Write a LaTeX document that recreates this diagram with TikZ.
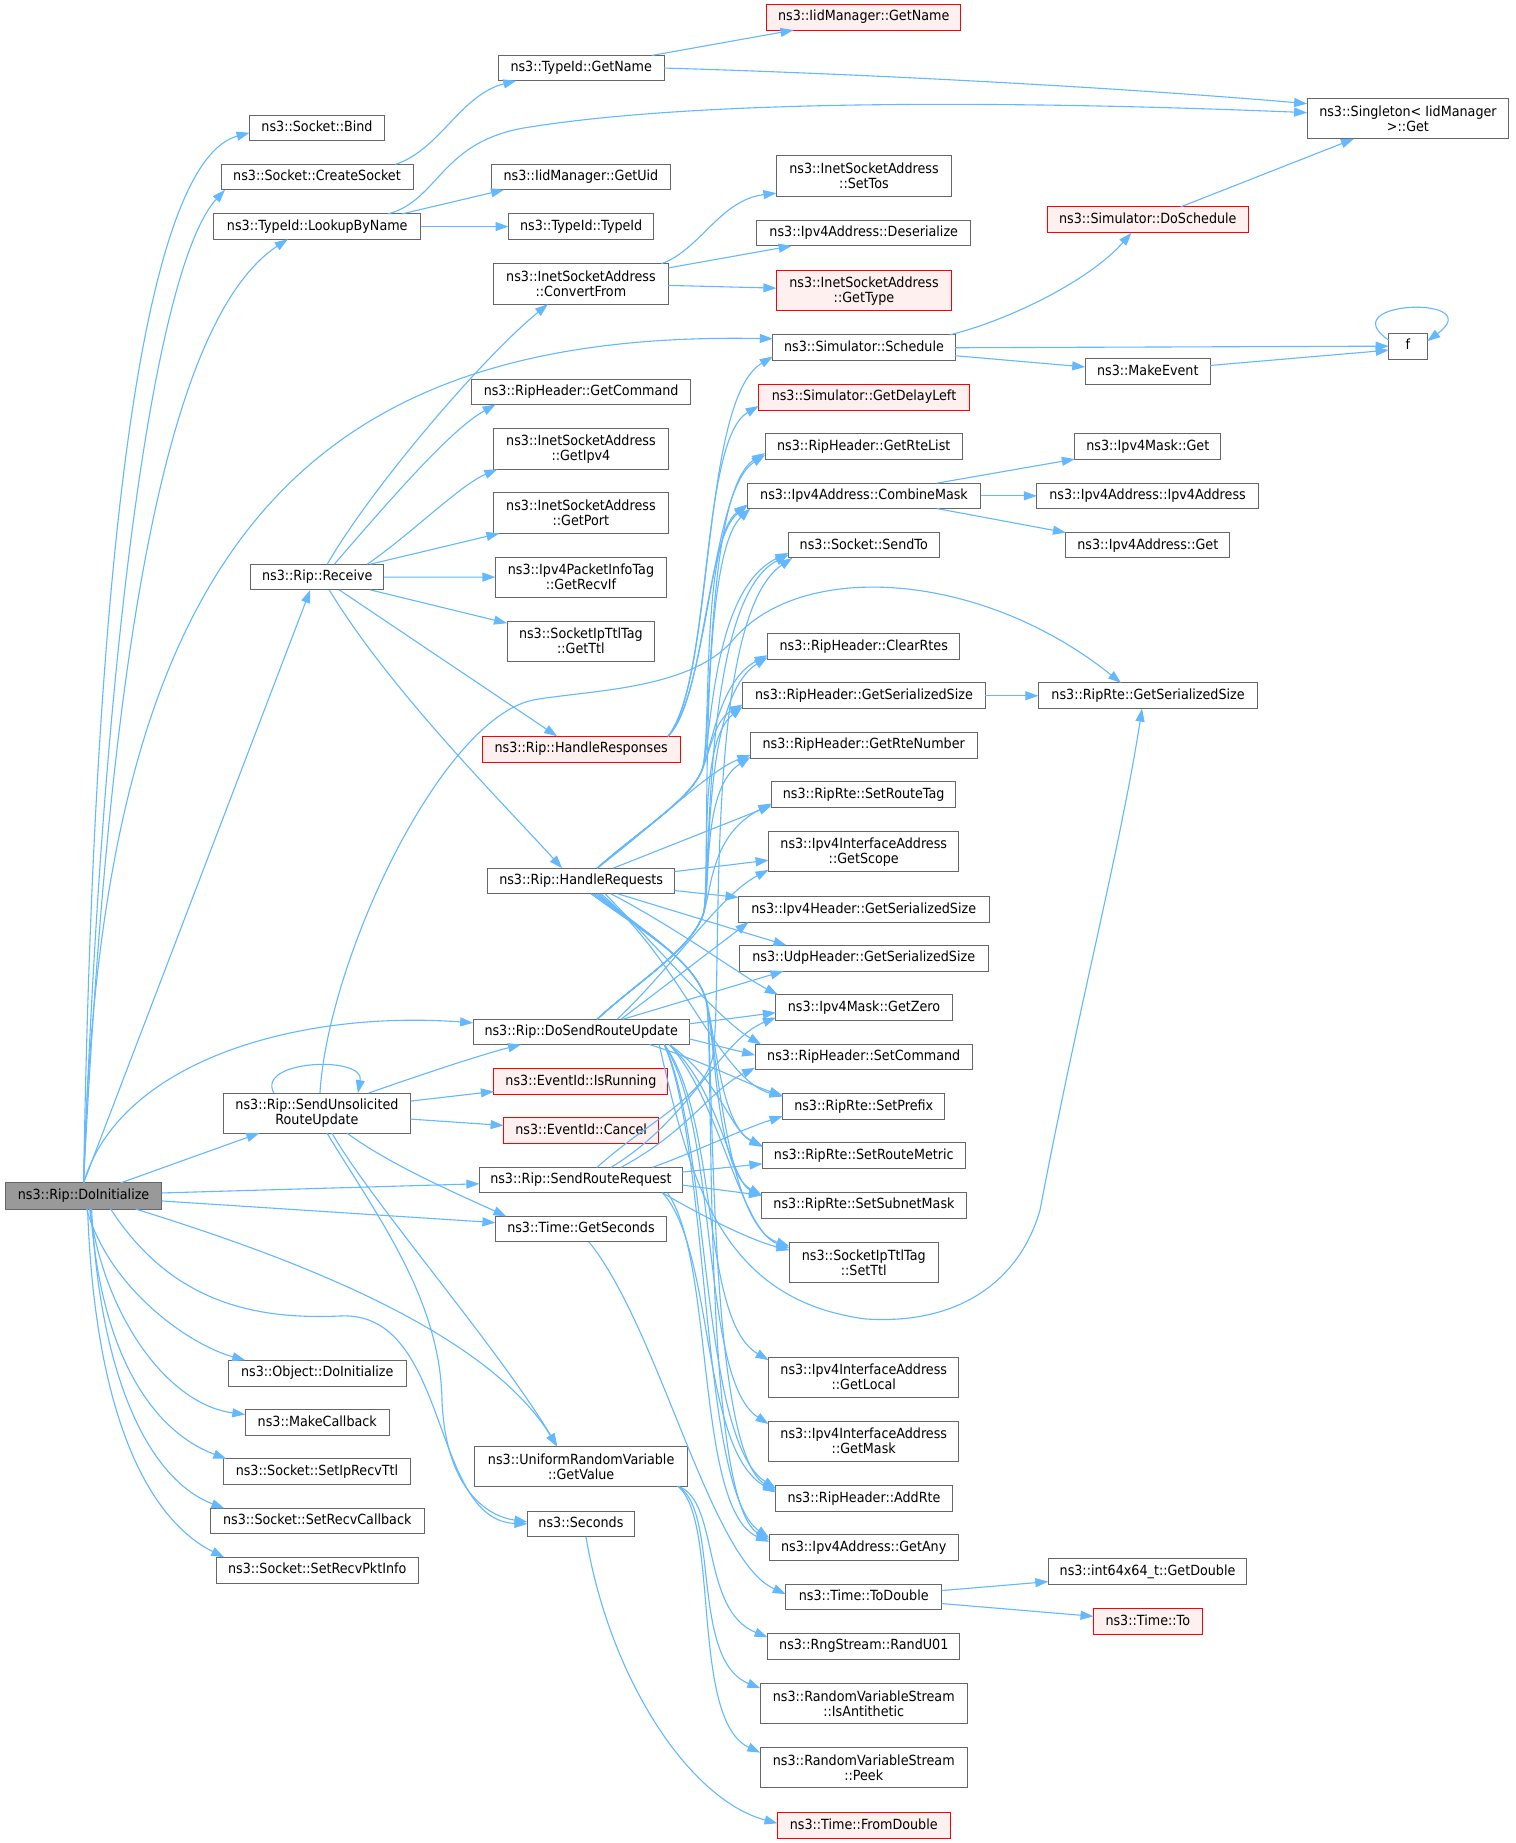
\documentclass[tikz,border=0pt]{standalone}
\usepackage{fontspec}
\usetikzlibrary{arrows.meta}
\newfontfamily\nodefont{DejaVu Sans}[FakeStretch=0.91]
\definecolor{edgeblue}{HTML}{63B8FF}
\definecolor{boxgray}{HTML}{666666}
\definecolor{redfill}{HTML}{FFF0F0}
\definecolor{rootgray}{HTML}{999999}
\newcommand\mkbox[7][]{\node[box,#1,minimum width={#5-#3},minimum height={#6-#4}] (#2) at ({(#3+#5)/2},{(#4+#6)/2}) {#7};}
\tikzset{
  box/.style={draw=boxgray, fill=white, line width=1pt, inner sep=0pt, outer sep=0pt, align=center,
    font=\nodefont\fontsize{14}{15}\selectfont},
  one/.style={text height=10.5pt, text depth=3pt},
  redbox/.style={draw=red, fill=redfill},
  rootbox/.style={fill=rootgray},
  edge/.style={draw=edgeblue, line width=1.1pt, -{Triangle[length=13pt,width=9pt]}}
}
\begin{document}
\begin{tikzpicture}[x=1pt,y=-1pt]
\fill[white] (0,0) rectangle (1515,1843);
\useasboundingbox (0,0) rectangle (1515,1843);
% root
\mkbox[one,rootbox]{DoInit}{5.3}{1182.9}{161.9}{1209.0}{ns3::Rip::DoInitialize}
% column 2
\mkbox[one]{Bind}{249.6}{115.1}{384.4}{140.4}{ns3::Socket::Bind}
\mkbox[one]{CreateSocket}{221.0}{164.5}{413.0}{189.8}{ns3::Socket::CreateSocket}
\mkbox[one]{LookupByName}{213.8}{213.9}{420.7}{239.2}{ns3::TypeId::LookupByName}
\mkbox[one]{Receive}{250.6}{564.2}{383.9}{589.9}{ns3::Rip::Receive}
\mkbox{SendUnsol}{223.4}{1093.1}{410.5}{1133.1}{ns3::Rip::SendUnsolicited\\RouteUpdate}
\mkbox[one]{ObjDoInit}{228.3}{1360.2}{406.2}{1386.1}{ns3::Object::DoInitialize}
\mkbox[one]{MakeCallback}{245.3}{1409.5}{389.2}{1435.3}{ns3::MakeCallback}
\mkbox[one]{SetIpRecvTtl}{223.4}{1458.8}{410.5}{1484.6}{ns3::Socket::SetIpRecvTtl}
\mkbox[one]{SetRecvCallback}{210.4}{1508.4}{424.1}{1533.9}{ns3::Socket::SetRecvCallback}
\mkbox[one]{SetRecvPktInfo}{216.2}{1557.3}{418.3}{1583.1}{ns3::Socket::SetRecvPktInfo}
% column 3
\mkbox[one]{TGetName}{498.3}{55.4}{664.1}{80.7}{ns3::TypeId::GetName}
\mkbox[one]{GetUid}{491.5}{164.5}{670.4}{189.8}{ns3::IidManager::GetUid}
\mkbox[one]{TypeIdCtor}{508.5}{213.9}{653.9}{239.2}{ns3::TypeId::TypeId}
\mkbox{ConvertFrom}{493.4}{263.7}{668.4}{304.1}{ns3::InetSocketAddress\\::ConvertFrom}
\mkbox[one]{GetCommand}{471.6}{379.2}{690.7}{404.5}{ns3::RipHeader::GetCommand}
\mkbox{GetIpv4}{493.4}{428.6}{668.4}{469.3}{ns3::InetSocketAddress\\::GetIpv4}
\mkbox{GetPort}{493.4}{492.7}{668.4}{533.4}{ns3::InetSocketAddress\\::GetPort}
\mkbox{GetRecvIf}{495.4}{557.1}{666.5}{597.1}{ns3::Ipv4PacketInfoTag\\::GetRecvIf}
\mkbox{GetTtl}{507.0}{621.2}{654.8}{661.2}{ns3::SocketIpTtlTag\\::GetTtl}
\mkbox[one,redbox]{HResp}{482.3}{736.3}{680.0}{762.1}{ns3::Rip::HandleResponses}
\mkbox[one]{HReq}{487.6}{868.2}{674.7}{893.9}{ns3::Rip::HandleRequests}
\mkbox[one]{DoSend}{473.1}{1019.2}{689.2}{1044.5}{ns3::Rip::DoSendRouteUpdate}
\mkbox[one,redbox]{IsRunning}{493.9}{1068.6}{667.9}{1094.3}{ns3::EventId::IsRunning}
\mkbox[one,redbox]{Cancel}{503.6}{1117.6}{658.7}{1143.3}{ns3::EventId::Cancel}
\mkbox[one]{SendReq}{479.4}{1167.4}{682.4}{1192.7}{ns3::Rip::SendRouteRequest}
\mkbox[one]{GetSeconds}{495.4}{1216.4}{666.5}{1241.9}{ns3::Time::GetSeconds}
\mkbox{UniGet}{474.5}{1446.5}{687.8}{1486.2}{ns3::UniformRandomVariable\\::GetValue}
\mkbox[one]{Seconds}{527.4}{1511.2}{634.5}{1536.7}{ns3::Seconds}
% column 4
\mkbox[one,redbox]{IidGetName}{766.5}{4.3}{960.9}{30.1}{ns3::IidManager::GetName}
\mkbox{SetTos}{776.4}{155.8}{951.6}{196.1}{ns3::InetSocketAddress\\::SetTos}
\mkbox[one]{Deser}{756.7}{220.2}{970.8}{245.9}{ns3::Ipv4Address::Deserialize}
\mkbox[redbox]{GetType}{776.4}{270.5}{951.6}{310.8}{ns3::InetSocketAddress\\::GetType}
\mkbox[one]{Schedule}{772.8}{334.9}{955.2}{360.6}{ns3::Simulator::Schedule}
\mkbox[one,redbox]{DelayLeft}{758.7}{384.3}{969.3}{410.0}{ns3::Simulator::GetDelayLeft}
\mkbox[one]{RteList}{765.0}{433.7}{962.5}{459.1}{ns3::RipHeader::GetRteList}
\mkbox[one]{CombMask}{747.3}{483.2}{980.7}{508.5}{ns3::Ipv4Address::CombineMask}
\mkbox[one]{SendTo}{788.4}{532.6}{939.1}{557.9}{ns3::Socket::SendTo}
\mkbox[one]{ClearRtes}{767.6}{633.9}{959.9}{659.2}{ns3::RipHeader::ClearRtes}
\mkbox[one]{HdrSize}{742.6}{682.9}{985.4}{708.6}{ns3::RipHeader::GetSerializedSize}
\mkbox[one]{RteNum}{750.4}{732.3}{977.1}{758.0}{ns3::RipHeader::GetRteNumber}
\mkbox[one]{RouteTag}{771.7}{781.2}{955.7}{807.4}{ns3::RipRte::SetRouteTag}
\mkbox{Scope}{768.6}{831.5}{958.9}{871.9}{ns3::Ipv4InterfaceAddress\\::GetScope}
\mkbox[one]{Ipv4Size}{738.5}{896.4}{989.0}{922.1}{ns3::Ipv4Header::GetSerializedSize}
\mkbox[one]{UdpSize}{739.5}{945.3}{988.0}{971.1}{ns3::UdpHeader::GetSerializedSize}
\mkbox[one]{Zero}{775.9}{994.7}{952.1}{1020.5}{ns3::Ipv4Mask::GetZero}
\mkbox[one]{SetCmd}{755.1}{1044.5}{972.4}{1069.8}{ns3::RipHeader::SetCommand}
\mkbox[one]{Prefix}{782.6}{1093.5}{944.8}{1119.2}{ns3::RipRte::SetPrefix}
\mkbox[one]{Metric}{762.4}{1142.9}{965.1}{1168.6}{ns3::RipRte::SetRouteMetric}
\mkbox[one]{Subnet}{761.9}{1192.3}{966.1}{1218.0}{ns3::RipRte::SetSubnetMask}
\mkbox{SetTtl}{789.4}{1242.2}{938.1}{1282.4}{ns3::SocketIpTtlTag\\::SetTtl}
\mkbox{Local}{768.6}{1357.1}{958.9}{1397.2}{ns3::Ipv4InterfaceAddress\\::GetLocal}
\mkbox{Mask}{768.6}{1421.0}{958.9}{1461.2}{ns3::Ipv4InterfaceAddress\\::GetMask}
\mkbox[one]{AddRte}{775.9}{1485.4}{952.1}{1511.2}{ns3::RipHeader::AddRte}
\mkbox[one]{Any}{769.1}{1534.7}{958.3}{1560.9}{ns3::Ipv4Address::GetAny}
\mkbox[one]{ToDouble}{785.8}{1584.3}{941.7}{1609.8}{ns3::Time::ToDouble}
\mkbox[one]{RandU}{767.6}{1633.2}{959.9}{1659.0}{ns3::RngStream::RandU01}
\mkbox{Anti}{760.3}{1683.2}{967.2}{1723.8}{ns3::RandomVariableStream\\::IsAntithetic}
\mkbox{Peek}{760.3}{1747.6}{967.2}{1787.7}{ns3::RandomVariableStream\\::Peek}
\mkbox[one,redbox]{FromDbl}{777.5}{1812.4}{950.0}{1838.2}{ns3::Time::FromDouble}
% column 5
\mkbox[one,redbox]{DoSched}{1047.2}{206.8}{1248.4}{232.9}{ns3::Simulator::DoSchedule}
\mkbox[one]{MkEvent}{1085.2}{358.6}{1210.4}{384.3}{ns3::MakeEvent}
\mkbox[one]{MaskGet}{1074.8}{433.7}{1220.8}{459.1}{ns3::Ipv4Mask::Get}
\mkbox[one]{AddrCtor}{1036.8}{483.2}{1258.3}{508.5}{ns3::Ipv4Address::Ipv4Address}
\mkbox[one]{AddrGet}{1065.9}{532.6}{1229.7}{557.9}{ns3::Ipv4Address::Get}
\mkbox[one]{RteSize}{1038.4}{682.9}{1257.7}{708.6}{ns3::RipRte::GetSerializedSize}
\mkbox[one]{GetDbl}{1048.3}{1558.9}{1246.8}{1584.3}{ns3::int64x64\_t::GetDouble}
\mkbox[one,redbox]{TimeTo}{1093.5}{1608.6}{1202.1}{1634.0}{ns3::Time::To}
% column 6
\mkbox{Singleton}{1307.1}{98.5}{1508.8}{138.8}{ns3::Singleton< IidManager\\ >::Get}
\mkbox[one]{f}{1388.7}{333.3}{1427.2}{359.0}{f}

% ---------- edges from DoInitialize
\draw[edge] (DoInit.north) .. controls (95,500) and (150,160) .. ([yshift=-5pt]Bind.west);
\draw[edge] (DoInit.north) .. controls (105,600) and (160,260) .. ([xshift=4pt]CreateSocket.south west);
\draw[edge] (DoInit.north) .. controls (105,750) and (150,330) .. ([xshift=74pt]LookupByName.south west);
\draw[edge] (DoInit.north) .. controls (100,550) and (300,330) .. ([yshift=9pt]Schedule.west);
\draw[edge] (DoInit.north) -- ([xshift=-7pt]Receive.south);
\draw[edge] ([xshift=37pt]DoInit.north) -- ([xshift=36pt]SendUnsol.south west);
\draw[edge] (DoInit.north) .. controls (120,1060) and (300,1010) .. ([yshift=9pt]DoSend.west);
\draw[edge] ([yshift=3pt]DoInit.east) -- ([yshift=-3.7pt]SendReq.west);
\draw[edge] ([yshift=-5pt]DoInit.east) -- ([yshift=6.5pt]GetSeconds.west);
\draw[edge] ([xshift=52pt]DoInit.south) .. controls (250,1245) and (480,1320) .. ([xshift=-24pt]UniGet.north);
\draw[edge] ([xshift=27pt]DoInit.south) .. controls (170,1300) and (250,1320) .. (340,1316) .. controls (450,1310) and (430,1520) .. (Seconds.west);
\draw[edge] ([xshift=3pt]DoInit.south) .. controls (110,1290) and (190,1345) .. ([xshift=17pt]ObjDoInit.north west);
\draw[edge] ([xshift=6pt]DoInit.south) .. controls (105,1320) and (170,1405) .. ([yshift=8pt]MakeCallback.west);
\draw[edge] ([xshift=7pt]DoInit.south) .. controls (100,1350) and (150,1430) .. ([xshift=3pt]SetIpRecvTtl.north west);
\draw[edge] ([xshift=8pt]DoInit.south) .. controls (100,1380) and (150,1480) .. ([xshift=14pt]SetRecvCallback.north west);
\draw[edge] ([xshift=4pt]DoInit.south) .. controls (95,1420) and (150,1520) .. ([xshift=8pt]SetRecvPktInfo.north west);

% ---------- upper part
\draw[edge] ([xshift=-18pt]CreateSocket.north east) .. controls (440,150) and (460,95) .. ([xshift=18pt]TGetName.south west);
\draw[edge] ([xshift=-18.7pt]LookupByName.north east) -- ([xshift=12.5pt]GetUid.south west);
\draw[edge] (LookupByName.east) -- (TypeIdCtor.west);
\draw[edge] ([xshift=-32.7pt]LookupByName.north east) .. controls (440,200) and (440,140) .. (530,127) .. controls (700,100) and (1000,100) .. ([yshift=6pt]Singleton.west);
\draw[edge] ([xshift=-12pt]TGetName.north east) -- ([xshift=27pt]IidGetName.south west);
\draw[edge] (TGetName.east) .. controls (900,75) and (1150,90) .. ([yshift=15pt]Singleton.west);
\draw[edge] ([xshift=33pt]DoSched.north) -- ([xshift=-54pt]Singleton.south);
\draw[edge] ([xshift=-5.7pt]Schedule.north east) .. controls (1010,320) and (1090,280) .. ([xshift=-16.4pt]DoSched.south);
\draw[edge] (Schedule.east) -- (f.west);
\draw[edge] ([yshift=-8pt]Schedule.east) -- ([yshift=4.5pt]MkEvent.west);
\draw[edge] ([yshift=6pt]MkEvent.east) -- ([yshift=-4pt]f.west);
\draw[edge] ([yshift=6pt]f.west) .. controls (1330,300) and (1490,295) .. ([yshift=5pt]f.east);
\draw[edge] ([xshift=-7pt]ConvertFrom.north east) .. controls (700,250) and (720,200) .. ([yshift=3pt]SetTos.south west);
\draw[edge] ([yshift=16pt]ConvertFrom.east) -- ([xshift=35pt]Deser.south west);
\draw[edge] ([yshift=-1.5pt]ConvertFrom.east) -- ([yshift=2.5pt]GetType.west);
\draw[edge] ([xshift=-44pt]CombMask.north east) -- (MaskGet.south west);
\draw[edge] (CombMask.east) -- (AddrCtor.west);
\draw[edge] ([xshift=-44pt]CombMask.south east) -- (AddrGet.north west);
\draw[edge] (HdrSize.east) -- (RteSize.west);
\draw[edge] ([yshift=6.5pt]ToDouble.east) -- ([yshift=-10pt]GetDbl.west);
\draw[edge] ([yshift=-6.5pt]ToDouble.east) -- ([yshift=5pt]TimeTo.west);

% ---------- Receive
\draw[edge] ([xshift=10pt]Receive.north) .. controls (370,490) and (480,360) .. ([xshift=-33pt]ConvertFrom.south);
\draw[edge] ([xshift=17pt]Receive.north) .. controls (390,500) and (450,430) .. ([xshift=24pt]GetCommand.south west);
\draw[edge] ([xshift=50pt]Receive.north) .. controls (410,535) and (460,485) .. ([xshift=4pt]GetIpv4.south west);
\draw[edge] ([xshift=53pt]Receive.north) -- ([xshift=6pt]GetPort.south west);
\draw[edge] (Receive.east) -- (GetRecvIf.west);
\draw[edge] ([xshift=53pt]Receive.south) -- ([yshift=-2pt]GetTtl.north west);
\draw[edge] ([xshift=22pt]Receive.south) -- ([xshift=-24pt]HResp.north);
\draw[edge] ([xshift=12pt]Receive.south) .. controls (390,690) and (500,800) .. ([xshift=-19pt]HReq.north);

% ---------- SendUnsolicitedRouteUpdate
\draw[edge] ([xshift=-43pt]SendUnsol.north) .. controls (255,1060) and (365,1055) .. ([xshift=41pt]SendUnsol.north);
\draw[edge] ([xshift=-42pt]SendUnsol.north east) .. controls (420,1075) and (480,1055) .. ([xshift=48pt]DoSend.south west);
\draw[edge] ([yshift=12pt]SendUnsol.east) -- ([yshift=-10pt]IsRunning.west);
\draw[edge] ([yshift=-6pt]SendUnsol.east) -- ([yshift=5pt]Cancel.west);
\draw[edge] ([xshift=30pt]SendUnsol.south) .. controls (390,1165) and (460,1195) .. ([xshift=11pt]GetSeconds.north west);
\draw[edge] ([xshift=15pt]SendUnsol.south) .. controls (370,1200) and (500,1350) .. ([xshift=-24pt]UniGet.north);
\draw[edge] ([xshift=10pt]SendUnsol.south) .. controls (380,1220) and (440,1300) .. (442,1400) .. controls (445,1480) and (480,1515) .. ([yshift=2pt]Seconds.west);
\draw[edge] ([xshift=3pt]SendUnsol.north) .. controls (328,960) and (440,720) .. (533,700) .. controls (590,690) and (690,690) .. (733,640) .. controls (800,560) and (980,570) .. ([xshift=-27pt]RteSize.north);

% ---------- HandleResponses
\draw[edge] ([xshift=-12pt]HResp.north east) .. controls (715,680) and (700,400) .. ([yshift=4pt]Schedule.south west);
\draw[edge] ([xshift=-12pt]HResp.north east) .. controls (712,680) and (700,440) .. ([yshift=4pt]DelayLeft.south west);
\draw[edge] ([xshift=-12pt]HResp.north east) .. controls (710,690) and (710,490) .. ([yshift=4pt]RteList.south west);
\draw[edge] ([xshift=-12pt]HResp.north east) .. controls (705,700) and (705,540) .. ([yshift=3pt]CombMask.south west);

% ---------- HandleRequests (upwards through the corridor)
\draw[edge] ([xshift=16pt]HReq.north) .. controls (640,830) and (690,800) .. (702,770) .. controls (712,745) and (705,490) .. ([yshift=6pt]RteList.south west);
\draw[edge] ([xshift=16pt]HReq.north) .. controls (640,830) and (690,800) .. (702,770) .. controls (712,745) and (700,540) .. ([yshift=4pt]CombMask.south west);
\draw[edge] ([xshift=16pt]HReq.north) .. controls (640,830) and (690,800) .. (702,770) .. controls (712,745) and (710,590) .. ([yshift=5pt]SendTo.south west);
\draw[edge] ([xshift=16pt]HReq.north) .. controls (640,830) and (690,800) .. (702,770) .. controls (712,745) and (720,680) .. ([yshift=4pt]ClearRtes.south west);
\draw[edge] ([xshift=16pt]HReq.north) .. controls (640,830) and (690,800) .. (702,770) .. controls (712,745) and (715,720) .. ([yshift=4pt]HdrSize.south west);
\draw[edge] ([xshift=16pt]HReq.north) .. controls (660,820) and (710,770) .. ([yshift=3pt]RteNum.south west);
\draw[edge] ([xshift=32pt]HReq.north) -- ([yshift=2pt]RouteTag.south west);
\draw[edge] ([yshift=9.5pt]HReq.east) -- ([yshift=-8.5pt]Scope.west);
\draw[edge] ([yshift=-9.5pt]HReq.east) -- ([yshift=-1pt]Ipv4Size.north west);
% HandleRequests (downwards)
\draw[edge] ([xshift=37pt]HReq.south) -- ([xshift=47pt]UdpSize.north west);
\draw[edge] ([xshift=30pt]HReq.south) .. controls (680,930) and (740,975) .. ([xshift=2pt]Zero.north west);
\draw[edge] ([xshift=24pt]HReq.south) .. controls (660,950) and (720,1020) .. ([xshift=6pt]SetCmd.north west);
\draw[edge] ([xshift=20pt]HReq.south) .. controls (680,960) and (720,1080) .. ([yshift=-3pt]Prefix.north west);
\draw[edge] ([xshift=18pt]HReq.south) .. controls (640,930) and (695,960) .. (706,1000) .. controls (715,1030) and (720,1125) .. ([yshift=-3pt]Metric.north west);
\draw[edge] ([xshift=16pt]HReq.south) .. controls (640,930) and (695,960) .. (706,1000) .. controls (715,1030) and (715,1170) .. ([yshift=-3pt]Subnet.north west);
\draw[edge] ([xshift=14pt]HReq.south) .. controls (640,930) and (695,960) .. (706,1000) .. controls (715,1030) and (725,1225) .. ([yshift=-4pt]SetTtl.north west);
\draw[edge] ([xshift=12pt]HReq.south) .. controls (640,930) and (695,960) .. (706,1000) .. controls (715,1030) and (705,1450) .. ([yshift=-5pt]AddRte.north west);
\draw[edge] ([xshift=10pt]HReq.south) .. controls (640,930) and (695,960) .. (706,1000) .. controls (715,1030) and (700,1500) .. ([yshift=-5pt]Any.north west);

% ---------- DoSendRouteUpdate (upwards)
\draw[edge] ([xshift=16pt]DoSend.north) .. controls (640,980) and (690,950) .. (703,915) .. controls (712,890) and (695,560) .. ([xshift=3pt]CombMask.south west);
\draw[edge] ([xshift=16pt]DoSend.north) .. controls (640,980) and (690,950) .. (703,915) .. controls (712,890) and (700,600) .. ([yshift=3pt]SendTo.south west);
\draw[edge] ([xshift=16pt]DoSend.north) .. controls (640,980) and (690,950) .. (703,915) .. controls (712,890) and (700,700) .. ([yshift=2pt]ClearRtes.south west);
\draw[edge] ([xshift=16pt]DoSend.north) .. controls (640,980) and (690,950) .. (703,915) .. controls (712,890) and (695,745) .. ([yshift=2pt]HdrSize.south west);
\draw[edge] ([xshift=16pt]DoSend.north) .. controls (640,980) and (690,950) .. (703,915) .. controls (712,890) and (700,790) .. ([yshift=1pt]RteNum.south west);
\draw[edge] ([xshift=16pt]DoSend.north) .. controls (640,980) and (690,950) .. (703,915) .. controls (712,890) and (710,835) .. ([yshift=4pt]RouteTag.south west);
\draw[edge] ([xshift=36pt]DoSend.north) .. controls (670,970) and (720,895) .. ([yshift=2pt]Scope.south west);
\draw[edge] ([xshift=40pt]DoSend.north) -- ([xshift=10pt]Ipv4Size.south west);
\draw[edge] ([xshift=42pt]DoSend.north) -- ([xshift=44pt]UdpSize.south west);
\draw[edge] ([yshift=8pt]DoSend.east) -- ([yshift=-5pt]Zero.west);
\draw[edge] ([yshift=-7pt]DoSend.east) -- ([yshift=2pt]SetCmd.west);
% DoSendRouteUpdate (downwards)
\draw[edge] ([xshift=-40pt]DoSend.south east) .. controls (700,1060) and (750,1085) .. ([yshift=-2pt]Prefix.north west);
\draw[edge] ([xshift=-20pt]DoSend.south east) .. controls (720,1080) and (730,1130) .. ([yshift=-4pt]Metric.north west);
\draw[edge] ([xshift=-20pt]DoSend.south east) .. controls (720,1090) and (730,1180) .. ([yshift=-4pt]Subnet.north west);
\draw[edge] ([xshift=-20pt]DoSend.south east) .. controls (720,1100) and (740,1230) .. ([yshift=-6pt]SetTtl.north west);
\draw[edge] ([xshift=-25pt]DoSend.south east) .. controls (720,1120) and (700,1320) .. ([yshift=-3pt]Local.north west);
\draw[edge] ([xshift=-25pt]DoSend.south east) .. controls (720,1130) and (700,1380) .. ([yshift=-3pt]Mask.north west);
\draw[edge] ([xshift=-25pt]DoSend.south east) .. controls (710,1140) and (700,1440) .. ([yshift=-3pt]AddRte.north west);
\draw[edge] ([xshift=-25pt]DoSend.south east) .. controls (710,1150) and (700,1490) .. ([yshift=-3pt]Any.north west);
\draw[edge] ([xshift=-30pt]DoSend.south east) .. controls (690,1180) and (720,1300) .. (866,1319) .. controls (960,1325) and (1020,1280) .. (1040,1210) .. controls (1080,1000) and (1120,850) .. ([xshift=-6pt]RteSize.south);

% ---------- SendRouteRequest
\draw[edge] ([xshift=16pt]SendReq.north) .. controls (650,1120) and (700,1100) .. (712,1060) .. controls (725,1000) and (700,620) .. ([xshift=4pt]SendTo.south west);
\draw[edge] ([xshift=30pt]SendReq.north) .. controls (690,1120) and (720,1040) .. ([yshift=3pt]Zero.south west);
\draw[edge] ([xshift=40pt]SendReq.north) .. controls (690,1130) and (710,1090) .. ([yshift=2pt]SetCmd.south west);
\draw[edge] ([xshift=-30pt]SendReq.north east) .. controls (700,1150) and (740,1130) .. ([yshift=3pt]Prefix.south west);
\draw[edge] ([yshift=8pt]SendReq.east) -- ([yshift=-8pt]Metric.west);
\draw[edge] ([yshift=-5pt]SendReq.east) -- ([yshift=-3pt]Subnet.north west);
\draw[edge] ([xshift=-20pt]SendReq.south east) .. controls (700,1215) and (750,1240) .. ([yshift=-8pt]SetTtl.north west);
\draw[edge] ([xshift=-20pt]SendReq.south east) .. controls (715,1250) and (700,1450) .. ([yshift=-7pt]AddRte.north west);
\draw[edge] ([xshift=-15pt]SendReq.south east) .. controls (715,1260) and (695,1510) .. ([yshift=-7pt]Any.north west);

% ---------- lower part
\draw[edge] ([xshift=8pt]GetSeconds.south) .. controls (660,1330) and (710,1560) .. ([yshift=3pt]ToDouble.west);
\draw[edge] ([xshift=-10pt]UniGet.south east) .. controls (720,1500) and (700,1610) .. ([yshift=-4pt]RandU.north west);
\draw[edge] ([xshift=-10pt]UniGet.south east) .. controls (720,1510) and (690,1660) .. ([yshift=-5pt]Anti.north west);
\draw[edge] ([xshift=-10pt]UniGet.south east) .. controls (720,1520) and (690,1720) .. ([yshift=-5pt]Peek.north west);
\draw[edge] ([xshift=5pt]Seconds.south) .. controls (610,1680) and (690,1800) .. ([yshift=2pt]FromDbl.west);
\end{tikzpicture}
\end{document}
